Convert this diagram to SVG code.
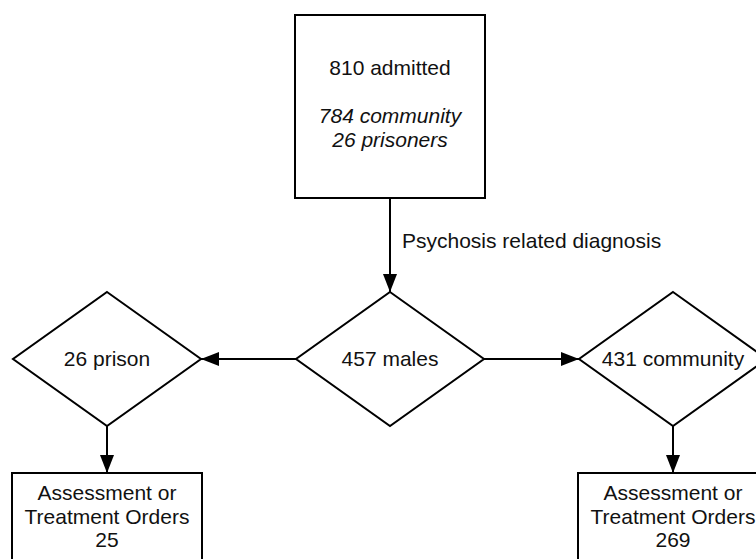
<svg xmlns="http://www.w3.org/2000/svg" width="756" height="559" viewBox="0 0 756 559">
<defs>
<style>
.shape{fill:#fff;stroke:#000;stroke-width:2}
.t{font-family:"Liberation Sans",Arial,sans-serif;font-size:21px;fill:#111;text-anchor:middle}
.i{font-style:italic}
.edge{stroke:#000;stroke-width:2;fill:none}
</style>
<marker id="arr" viewBox="0 0 18 14" refX="18" refY="7" markerWidth="18" markerHeight="14" markerUnits="userSpaceOnUse" orient="auto">
<path d="M0,0 L18,7 L0,14 Z" fill="#000"/>
</marker>
</defs>
<rect width="756" height="559" fill="#fff"/>
<g id="connectors">
<line class="edge" x1="390" y1="198" x2="390" y2="292" marker-end="url(#arr)"/>
<text class="t" x="402" y="248" style="text-anchor:start">Psychosis related diagnosis</text>
<line class="edge" x1="296" y1="359" x2="201" y2="359" marker-end="url(#arr)"/>
<line class="edge" x1="484" y1="359" x2="579" y2="359" marker-end="url(#arr)"/>
<line class="edge" x1="107" y1="426" x2="107" y2="473" marker-end="url(#arr)"/>
<line class="edge" x1="673" y1="426" x2="673" y2="473" marker-end="url(#arr)"/>
</g>
<g id="admitted">
<rect class="shape" x="295" y="15" width="190" height="183"/>
<text class="t" x="390" y="75">810 admitted</text>
<text class="t i" x="390" y="123">784 community</text>
<text class="t i" x="390" y="147">26 prisoners</text>
</g>
<g id="males">
<polygon class="shape" points="390,292 484,359 390,426 296,359"/>
<text class="t" x="390" y="366">457 males</text>
</g>
<g id="prison">
<polygon class="shape" points="107,292 201,359 107,426 13,359"/>
<text class="t" x="107" y="366">26 prison</text>
</g>
<g id="community">
<polygon class="shape" points="673,292 767,359 673,426 579,359"/>
<text class="t" x="673" y="366">431 community</text>
</g>
<g id="orders-prison">
<rect class="shape" x="12" y="473" width="190" height="120"/>
<text class="t" x="107" y="500">Assessment or</text>
<text class="t" x="107" y="523.5">Treatment Orders</text>
<text class="t" x="107" y="547">25</text>
</g>
<g id="orders-community">
<rect class="shape" x="578" y="473" width="190" height="120"/>
<text class="t" x="673" y="500">Assessment or</text>
<text class="t" x="673" y="523.5">Treatment Orders</text>
<text class="t" x="673" y="547">269</text>
</g>
</svg>
